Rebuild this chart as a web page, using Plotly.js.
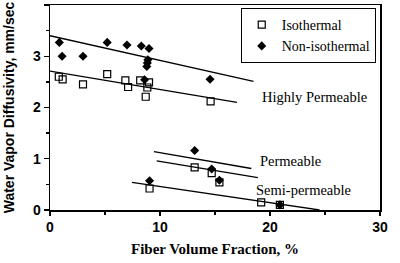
<!DOCTYPE html>
<html><head><meta charset="utf-8">
<script src="https://cdn.plot.ly/plotly-3.0.1.min.js"></script>
<style>html,body{margin:0;padding:0;background:#fff;}#c{width:400px;height:263px;}</style>
</head><body><div id="c"></div>
<script>
// Isothermal (open squares)
const isoX = [0.8, 1.15, 3.0, 5.2, 6.85, 7.1, 8.2, 9.0, 8.85, 8.7, 14.6, 9.05, 13.15, 14.7, 15.4, 19.2, 20.9];
const isoY = [2.6, 2.55, 2.45, 2.65, 2.53, 2.4, 2.53, 2.49, 2.39, 2.21, 2.12, 0.42, 0.83, 0.72, 0.54, 0.15, 0.1];
// Non-isothermal (filled diamonds)
const nonX = [0.85, 1.1, 3.0, 5.2, 7.0, 8.3, 9.0, 8.9, 8.85, 8.8, 8.6, 14.55, 9.05, 13.15, 14.7, 15.4, 20.9];
const nonY = [3.27, 3.0, 3.0, 3.27, 3.22, 3.2, 3.15, 2.93, 2.87, 2.8, 2.54, 2.55, 0.57, 1.16, 0.8, 0.58, 0.1];
// Fitted lines (endpoints)
const hpNonX = [0, 18.5], hpNonY = [3.40, 2.51];
const hpIsoX = [0, 17.0], hpIsoY = [2.71, 2.10];
const pNonX = [9.45, 18.3], pNonY = [1.14, 0.81];
const pIsoX = [9.7, 18.9], pIsoY = [0.96, 0.63];
const spX = [7.45, 24.5], spY = [0.54, 0.0];
// Labels
const labelText = ["Highly Permeable", "Permeable", "Semi-permeable"];
const labelX = [19.05, 18.95, 18.55];
const labelY = [2.21, 0.96, 0.39];
const legendNames = ["Isothermal", "Non-isothermal"];

const lineStyle = {color: '#000', width: 1.3};
function fit(x, y){ return {x:x, y:y, mode:'lines', line:lineStyle, showlegend:false, hoverinfo:'skip', cliponaxis:true}; }

const traces = [
  fit(hpNonX, hpNonY), fit(hpIsoX, hpIsoY), fit(pNonX, pNonY), fit(pIsoX, pIsoY), fit(spX, spY),
  {x: isoX, y: isoY, mode:'markers', name: legendNames[0],
   marker:{symbol:'square-open', size:7, color:'#000', line:{width:1.2, color:'#000'}}, cliponaxis:false},
  {x: nonX, y: nonY, mode:'markers', name: legendNames[1],
   marker:{symbol:'diamond', size:7, color:'#000'}, cliponaxis:false}
];

const sans = {family:'Liberation Sans, Arial, sans-serif', size:14, color:'#000', weight:'bold'};
const serif = 'Liberation Serif, Times New Roman, serif';

const layout = {
  width:400, height:263,
  margin:{l:50, r:20, t:5, b:53},
  paper_bgcolor:'#fff', plot_bgcolor:'#fff',
  showlegend:true,
  legend:{x:0.578, y:0.985, xanchor:'left', yanchor:'top', bgcolor:'#fff', bordercolor:'#000', borderwidth:1,
          font:{family:serif, size:14, color:'#000'}, tracegroupgap:0, itemwidth:30},
  xaxis:{range:[0,30], tickvals:[0,10,20,30], ticks:'outside', ticklen:4, tickwidth:1.3, tickcolor:'#000',
         minor:{tickvals:[5,15,25], ticks:'outside', ticklen:3, tickcolor:'#000'},
         showline:true, linecolor:'#000', linewidth:1.5, mirror:true, showgrid:false, zeroline:false,
         tickfont:sans,
         title:{text:'Fiber Volume Fraction, %', font:{family:serif, size:15, color:'#000', weight:'bold'}, standoff:9}},
  yaxis:{range:[0,4], tickvals:[0,1,2,3,4], ticks:'outside', ticklen:5, tickwidth:1.3, tickcolor:'#000',
         minor:{tickvals:[0.5,1.5,2.5,3.5], ticks:'outside', ticklen:3, tickcolor:'#000'},
         showline:true, linecolor:'#000', linewidth:1.5, mirror:true, showgrid:false, zeroline:false,
         tickfont:sans,
         title:{text:'Water Vapor Diffusivity, mm/sec', font:{family:'Liberation Sans, Arial, sans-serif', size:14, color:'#000', weight:'bold'}, standoff:15}},
  annotations: labelText.map((t,i)=>({x:labelX[i], y:labelY[i], xref:'x', yref:'y', text:t, showarrow:false,
     xanchor:'left', yanchor:'middle', font:{family:serif, size:14.5, color:'#000'}}))
};
Plotly.newPlot('c', traces, layout, {staticPlot:true, displayModeBar:false});
</script></body></html>
